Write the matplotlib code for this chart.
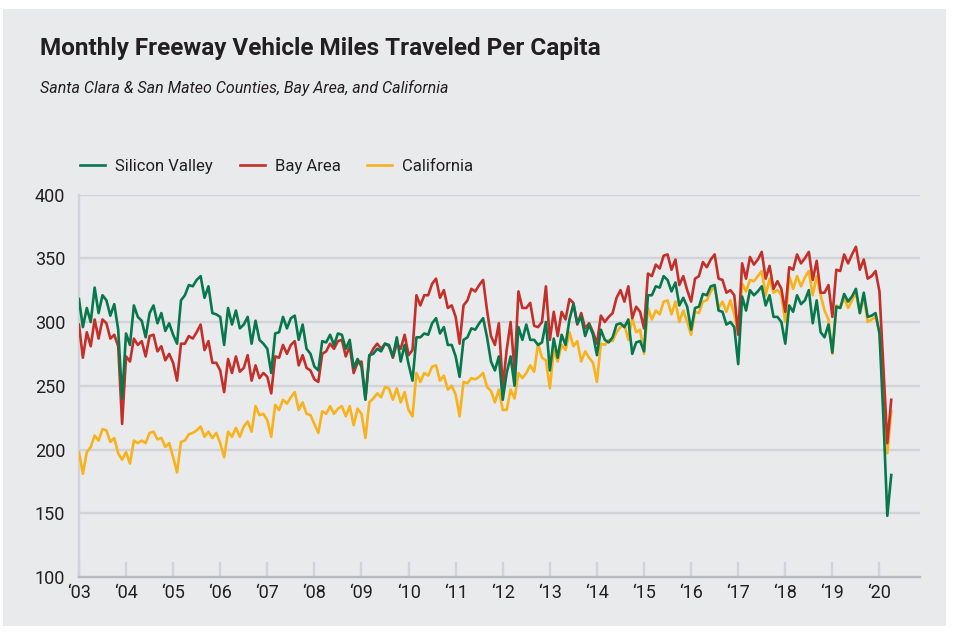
import numpy as np
import matplotlib
matplotlib.use("Agg")
from matplotlib import pyplot as plt
from matplotlib.patches import Rectangle

# monthly values, Jan 2003 .. Apr 2020
silicon_valley = [
    318, 296, 311, 300, 327, 307, 321, 317, 305, 314, 294, 240,  # 2003
    291, 282, 313, 304, 301, 288, 307, 313, 299, 307, 293, 299,  # 2004
    290, 283, 317, 321, 329, 328, 333, 336, 319, 328, 307, 306,  # 2005
    304, 282, 311, 298, 309, 295, 298, 304, 283, 301, 286, 283,  # 2006
    279, 260, 291, 292, 304, 295, 303, 305, 286, 298, 279, 275,  # 2007
    265, 262, 285, 284, 290, 282, 291, 290, 279, 286, 264, 271,  # 2008
    265, 239, 274, 275, 279, 277, 283, 282, 273, 288, 269, 282,  # 2009
    267, 254, 288, 288, 291, 290, 299, 303, 291, 296, 282, 282,  # 2010
    273, 257, 286, 288, 295, 294, 299, 303, 288, 269, 262, 273,  # 2011
    239, 260, 273, 250, 296, 286, 298, 286, 286, 282, 284, 300,  # 2012
    262, 287, 272, 290, 282, 302, 314, 299, 304, 289, 298, 290,  # 2013
    274, 294, 286, 284, 288, 298, 299, 296, 302, 275, 284, 285,  # 2014
    277, 321, 321, 328, 327, 336, 333, 324, 331, 313, 319, 312,  # 2015
    294, 311, 312, 322, 321, 328, 329, 309, 308, 298, 300, 296,  # 2016
    267, 320, 309, 325, 321, 324, 328, 313, 321, 304, 304, 300,  # 2017
    283, 313, 308, 321, 314, 317, 325, 299, 317, 292, 288, 298,  # 2018
    276, 312, 311, 322, 316, 320, 326, 307, 323, 304, 305, 307,  # 2019
    291, 225, 148, 180,                                          # 2020
]

bay_area = [
    298, 272, 292, 281, 302, 287, 302, 299, 287, 290, 281, 220,
    273, 269, 287, 282, 285, 273, 289, 290, 277, 281, 270, 275,
    268, 254, 283, 283, 289, 287, 292, 298, 278, 285, 268, 268,
    262, 245, 271, 260, 273, 261, 264, 274, 254, 266, 256, 260,
    257, 244, 273, 272, 282, 275, 282, 285, 266, 274, 264, 262,
    255, 253, 275, 277, 283, 279, 285, 286, 273, 281, 260, 268,
    269, 240, 273, 279, 283, 279, 283, 281, 272, 283, 279, 290,
    274, 278, 321, 313, 321, 321, 330, 334, 319, 325, 311, 313,
    304, 283, 313, 317, 326, 324, 329, 333, 309, 289, 282, 299,
    249, 278, 300, 262, 324, 311, 311, 315, 297, 296, 300, 328,
    286, 308, 289, 308, 302, 318, 315, 298, 307, 295, 299, 292,
    283, 305, 300, 304, 307, 319, 325, 316, 328, 303, 312, 308,
    295, 338, 336, 345, 342, 352, 353, 341, 349, 329, 336, 325,
    316, 334, 336, 347, 343, 349, 353, 334, 333, 323, 325, 321,
    290, 346, 334, 351, 345, 349, 355, 334, 344, 326, 332, 326,
    308, 343, 341, 353, 346, 350, 355, 333, 348, 323, 323, 329,
    304, 341, 340, 353, 346, 353, 359, 341, 349, 334, 336, 340,
    324, 265, 205, 239,
]

california = [
    198, 181, 198, 202, 211, 207, 216, 215, 206, 209, 197, 192,
    198, 189, 207, 205, 207, 205, 213, 214, 208, 209, 202, 205,
    194, 182, 206, 207, 212, 213, 215, 218, 210, 214, 209, 213,
    205, 194, 214, 210, 217, 210, 218, 222, 214, 234, 227, 228,
    223, 210, 235, 231, 239, 236, 241, 245, 231, 237, 228, 227,
    220, 213, 230, 228, 234, 228, 232, 234, 226, 234, 219, 232,
    228, 209, 237, 240, 244, 241, 249, 248, 239, 248, 237, 245,
    231, 226, 260, 253, 260, 258, 265, 266, 254, 258, 247, 250,
    243, 226, 253, 252, 256, 255, 257, 260, 249, 246, 237, 247,
    231, 231, 247, 240, 260, 256, 260, 266, 261, 283, 272, 270,
    248, 278, 269, 282, 278, 292, 281, 285, 269, 277, 272, 268,
    253, 283, 282, 286, 285, 292, 296, 298, 286, 303, 292, 294,
    275, 311, 302, 309, 306, 316, 317, 306, 316, 300, 309, 300,
    290, 308, 307, 316, 317, 324, 328, 311, 316, 308, 317, 306,
    291, 330, 324, 333, 332, 336, 340, 321, 334, 323, 325, 321,
    300, 336, 326, 336, 328, 335, 340, 321, 336, 321, 309, 302,
    275, 313, 311, 319, 311, 317, 323, 307, 320, 300, 302, 304,
    292, 244, 197, 230,
]

years = list(range(2003, 2021))
year_labels = ["\u2018%02d" % (y % 100) for y in years]
y_ticks = [100, 150, 200, 250, 300, 350, 400]

GREEN = "#07784c"
RED = "#c3302a"
GOLD = "#f9b21c"
TEXT = "#231f20"
GRID = "#d2d3d6"
BG = "#e9eaec"

plt.rcParams["font.family"] = ["Roboto", "DejaVu Sans"]

# decimal year for each month
t = 2003 + np.arange(len(silicon_valley)) / 12.0

fig = plt.figure(figsize=(9.57, 6.34), dpi=100, facecolor="white")
fig.patches.append(Rectangle((0.003, 0.013), 0.985, 0.973, transform=fig.transFigure,
                             facecolor=BG, edgecolor="none", zorder=-10))

ax = fig.add_axes([0.0825, 0.0899, 0.8788, 0.6033])
ax.set_facecolor(BG)

ax.plot(t, california, color=GOLD, lw=1.9, label="California", zorder=3)
ax.plot(t, bay_area, color=RED, lw=1.9, label="Bay Area", zorder=4)
ax.plot(t, silicon_valley, color=GREEN, lw=1.9, label="Silicon Valley", zorder=5)

ax.set_xlim(2003, 2020.86)
ax.set_ylim(100, 400)
ax.set_yticks(y_ticks)
ax.set_xticks(years)
ax.set_xticklabels(year_labels)
for y in y_ticks[1:]:
    ax.axhline(y, color=GRID, lw=1.7, zorder=1)

for side in ["top", "right"]:
    ax.spines[side].set_visible(False)
ax.spines["left"].set_color(GRID)
ax.spines["left"].set_linewidth(1.7)
ax.spines["bottom"].set_color("#b9babd")
ax.spines["bottom"].set_linewidth(1.7)

ax.tick_params(axis="y", length=0, pad=10, labelsize=13, labelcolor=TEXT)
ax.tick_params(axis="x", direction="in", length=11, width=1.7, color=GRID,
               pad=5, labelsize=13, labelcolor=TEXT)

fig.text(0.042, 0.924, "Monthly Freeway Vehicle Miles Traveled Per Capita",
         fontsize=17.5, fontweight="bold", color=TEXT, va="center")
fig.text(0.042, 0.861, "Santa Clara & San Mateo Counties, Bay Area, and California",
         fontsize=11.5, style="italic", color=TEXT, va="center")

h, l = ax.get_legend_handles_labels()
leg = fig.legend(h[::-1], l[::-1], loc="center left", bbox_to_anchor=(0.084, 0.738),
                 ncol=3, frameon=False, fontsize=12, handlelength=1.5,
                 handletextpad=0.6, columnspacing=1.6, borderpad=0, borderaxespad=0)
for txt in leg.get_texts():
    txt.set_color(TEXT)

fig.savefig("out.png", dpi=100, facecolor="white")
